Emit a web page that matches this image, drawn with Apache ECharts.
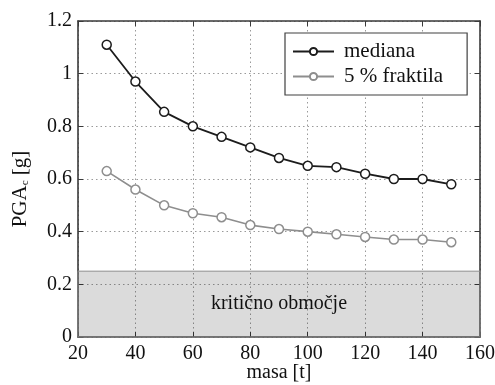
<!DOCTYPE html>
<html>
<head>
<meta charset="utf-8">
<script src="https://cdn.jsdelivr.net/npm/echarts@6/dist/echarts.min.js"></script>
<style>
  html, body { margin: 0; padding: 0; background: #fff; }
  #chart { width: 495px; height: 385px; }
</style>
</head>
<body>
<div id="chart"></div>
<script>
// mass [t]
const masa = [30, 40, 50, 60, 70, 80, 90, 100, 110, 120, 130, 140, 150];
// critical PGA [g] - median
const mediana = [1.11, 0.97, 0.855, 0.80, 0.76, 0.72, 0.68, 0.65, 0.645, 0.62, 0.60, 0.60, 0.58];
// critical PGA [g] - 5 % fractile
const fraktila5 = [0.63, 0.56, 0.50, 0.47, 0.455, 0.425, 0.41, 0.40, 0.39, 0.38, 0.37, 0.37, 0.36];
// upper bound of the critical zone [g]
const kriticnaMeja = 0.25;

const FONT = '"Liberation Serif", "DejaVu Serif", serif';
const AXIS_COLOR = '#3a3a3a';

const pairs = (xs, ys) => xs.map((x, i) => [x, ys[i]]);

const chart = echarts.init(document.getElementById('chart'), null, { renderer: 'canvas' });

const tickStyle = { show: true, inside: true, length: 5, lineStyle: { color: AXIS_COLOR, width: 1 } };
const lineStyleAxis = { show: true, onZero: false, lineStyle: { color: AXIS_COLOR, width: 1.6 } };
const gridLines = { show: true, lineStyle: { color: '#9a9a9a', type: [1.5, 3], width: 1 } };

chart.setOption({
  animation: false,
  textStyle: { fontFamily: FONT },
  grid: { left: 78, right: 15, top: 21, bottom: 48, outerBoundsMode: 'none', containLabel: false },
  legend: {
    left: 285, top: 33,
    orient: 'vertical',
    backgroundColor: '#fff',
    borderColor: '#404040',
    borderWidth: 1.2,
    borderRadius: 0,
    padding: [8, 24, 8, 7],
    itemGap: 4,
    itemWidth: 41,
    itemHeight: 9,
    textStyle: { fontFamily: FONT, fontSize: 21, color: '#111', padding: [0, 0, 0, 5] },
    data: ['mediana', '5 % fraktila']
  },
  xAxis: [
    {
      type: 'value', min: 20, max: 160, interval: 20,
      name: 'masa [t]', nameLocation: 'middle', nameGap: 26, nameMoveOverlap: false,
      nameTextStyle: { fontFamily: FONT, fontSize: 20, color: '#111' },
      axisLine: lineStyleAxis, axisTick: tickStyle, splitLine: gridLines,
      axisLabel: { fontFamily: FONT, fontSize: 20, color: '#111', margin: 7 }
    },
    {
      type: 'value', position: 'top', min: 20, max: 160, interval: 20,
      axisLine: lineStyleAxis, axisTick: tickStyle, splitLine: { show: false },
      axisLabel: { show: false }
    }
  ],
  yAxis: [
    {
      type: 'value', min: 0, max: 1.2, interval: 0.2,
      name: '{n|PGA}{s|c}{n| [g]}', nameLocation: 'middle', nameGap: 47, nameMoveOverlap: false,
      nameTextStyle: {
        padding: [0, 20, 0, 0],
        rich: {
          n: { fontFamily: FONT, fontSize: 21, color: '#111' },
          s: { fontFamily: FONT, fontSize: 11, color: '#111', verticalAlign: 'bottom', padding: [9, 0, 0, 0] }
        }
      },
      axisLine: lineStyleAxis, axisTick: tickStyle, splitLine: gridLines,
      axisLabel: {
        fontFamily: FONT, fontSize: 20, color: '#111', margin: 6,
        formatter: v => (Math.round(v * 10) / 10).toString()
      }
    },
    {
      type: 'value', position: 'right', min: 0, max: 1.2, interval: 0.2,
      axisLine: lineStyleAxis, axisTick: tickStyle, splitLine: { show: false },
      axisLabel: { show: false }
    }
  ],
  series: [
    {
      // critical zone below the threshold (translucent so the grid stays visible)
      name: 'kritično območje',
      type: 'line',
      data: [],
      markArea: {
        silent: true,
        itemStyle: { color: 'rgba(0,0,0,0.14)', borderColor: '#8c8c8c', borderWidth: 1 },
        label: {
          show: true, position: 'inside',
          fontFamily: FONT, fontSize: 20, color: '#111'
        },
        data: [[
          { name: 'kritično območje', xAxis: 20, yAxis: 0 },
          { xAxis: 160, yAxis: kriticnaMeja }
        ]]
      }
    },
    {
      name: 'mediana',
      type: 'line',
      data: pairs(masa, mediana),
      symbol: 'circle', symbolSize: 9,
      lineStyle: { color: '#1c1c1c', width: 1.8 },
      itemStyle: { color: '#fff', borderColor: '#1c1c1c', borderWidth: 1.5 },
      z: 3
    },
    {
      name: '5 % fraktila',
      type: 'line',
      data: pairs(masa, fraktila5),
      symbol: 'circle', symbolSize: 9,
      lineStyle: { color: '#8e8e8e', width: 1.6 },
      itemStyle: { color: '#fff', borderColor: '#8e8e8e', borderWidth: 1.5 },
      z: 3
    }
  ]
});
</script>
</body>
</html>
